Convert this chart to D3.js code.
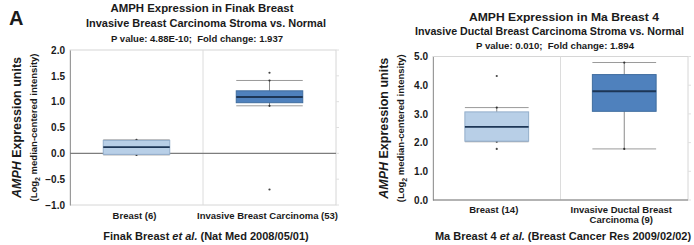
<!DOCTYPE html>
<html>
<head>
<meta charset="utf-8">
<script src="https://cdn.jsdelivr.net/npm/d3@7"></script>
<style>
  body { margin: 0; background: #fff; }
  text { font-family: "Liberation Sans", Arial, sans-serif; font-weight: bold; fill: #1a1a1a; white-space: pre; }
</style>
</head>
<body>
<div id="chart"></div>
<script>
"use strict";

// Finak Breast panel
var finakCategories = ["Breast (6)", "Invasive Breast Carcinoma (53)"];
var finakLow = [-0.03, 0.92];
var finakQ1 = [-0.02, 0.98];
var finakMedian = [0.12, 1.09];
var finakQ3 = [0.25, 1.21];
var finakHigh = [0.26, 1.41];
var finakOutliers = [[], [1.56, -0.70]];
var finakTicks = [-1.0, -0.5, 0.0, 0.5, 1.0, 1.5, 2.0];

// Ma Breast 4 panel
var maCategories = [["Breast (14)"], ["Invasive Ductal Breast", "Carcinoma (9)"]];
var maLow = [2.03, 1.78];
var maQ1 = [2.05, 3.09];
var maMedian = [2.55, 3.79];
var maQ3 = [3.07, 4.37];
var maHigh = [3.22, 4.79];
var maOutliers = [[4.32, 1.78], []];
var maTicks = [0, 1, 2, 3, 4, 5];

var boxFills = ["#b8cfe7", "#4f81bd"];
var boxStrokes = ["#93aecb", "#3f6d9f"];

var svg = d3.select("#chart").append("svg")
  .attr("width", 694).attr("height", 245);

svg.append("text").attr("x", 9).attr("y", 25)
  .style("font-size", "20px").text("A");

function drawPanel(opts) {
  var g = svg.append("g");
  var x = d3.scaleBand().domain(d3.range(opts.n)).range([opts.left, opts.right]);
  var y = d3.scaleLinear().domain(opts.yDomain).range([opts.bottom, opts.top]);
  var bw = x.bandwidth() * 0.5;

  // frame
  g.append("rect").attr("x", opts.left).attr("y", opts.top)
    .attr("width", opts.right - opts.left).attr("height", opts.bottom - opts.top)
    .attr("fill", "none").attr("stroke", "#d6d6d6");
  g.append("line").attr("x1", x(1)).attr("x2", x(1))
    .attr("y1", opts.top).attr("y2", opts.bottom).attr("stroke", "#dcdcdc");

  // y axis
  var axis = g.append("g").attr("transform", "translate(" + opts.left + ",0)")
    .call(d3.axisLeft(y).tickValues(opts.ticks).tickFormat(d3.format(".1f")).tickSize(0).tickPadding(5));
  axis.select(".domain").attr("stroke", "#9a9a9a");
  axis.selectAll("text").style("font-size", "10px").style("font-family", "Liberation Sans, Arial, sans-serif").attr("fill", "#1a1a1a");

  // right side small ticks
  g.selectAll(".rtick").data(opts.ticks).enter().append("line")
    .attr("x1", opts.right).attr("x2", opts.right + 3)
    .attr("y1", function (d) { return y(d); }).attr("y2", function (d) { return y(d); })
    .attr("stroke", "#e0e0e0");

  // zero line
  g.append("line").attr("x1", opts.left).attr("x2", opts.right)
    .attr("y1", y(0)).attr("y2", y(0)).attr("stroke", "#7d7d7d").attr("stroke-width", 1.2);

  d3.range(opts.n).forEach(function (i) {
    var cx = x(i) + x.bandwidth() / 2;
    var bg = g.append("g");
    bg.append("line").attr("x1", cx).attr("x2", cx)
      .attr("y1", y(opts.high[i])).attr("y2", y(opts.low[i]))
      .attr("stroke", "#8a8a8a");
    [opts.high[i], opts.low[i]].forEach(function (v) {
      bg.append("line").attr("x1", cx - bw / 2).attr("x2", cx + bw / 2)
        .attr("y1", y(v)).attr("y2", y(v)).attr("stroke", "#9a9a9a");
      bg.append("circle").attr("cx", cx).attr("cy", y(v)).attr("r", 1.1).attr("fill", "#333");
    });
    bg.append("rect").attr("x", cx - bw / 2).attr("y", y(opts.q3[i]))
      .attr("width", bw).attr("height", y(opts.q1[i]) - y(opts.q3[i]))
      .attr("fill", boxFills[i]).attr("stroke", boxStrokes[i]);
    bg.append("line").attr("x1", cx - bw / 2).attr("x2", cx + bw / 2)
      .attr("y1", y(opts.median[i])).attr("y2", y(opts.median[i]))
      .attr("stroke", "#1d3656").attr("stroke-width", 1.8);
    opts.outliers[i].forEach(function (v) {
      bg.append("circle").attr("cx", cx).attr("cy", y(v)).attr("r", 1.1).attr("fill", "#444");
    });
  });

  // category labels
  opts.categories.forEach(function (lines, i) {
    var cx = x(i) + x.bandwidth() / 2 + opts.catShift[i];
    [].concat(lines).forEach(function (t, k) {
      g.append("text").attr("x", cx).attr("y", opts.catY + k * 10)
        .attr("text-anchor", "middle").style("font-size", "9.5px").text(t);
    });
  });

  // titles, stretched to the widths seen in the original
  opts.titles.forEach(function (t) {
    g.append("text").attr("x", t.x).attr("y", t.y).attr("text-anchor", "middle")
      .attr("textLength", t.w).attr("lengthAdjust", "spacingAndGlyphs")
      .style("font-size", t.size + "px").text(t.text);
  });

  // source line
  var src = g.append("text").attr("x", opts.srcX).attr("y", opts.srcY)
    .attr("text-anchor", "middle").style("font-size", "11px");
  src.append("tspan").text(opts.source[0]);
  src.append("tspan").style("font-style", "italic").text(" et al.");
  src.append("tspan").text(" " + opts.source[1]);

  // y label
  var cy = (opts.top + opts.bottom) / 2;
  var l1 = g.append("text").attr("transform", "translate(" + opts.labX + "," + cy + ") rotate(-90)")
    .attr("text-anchor", "middle").style("font-size", "12.5px");
  l1.append("tspan").style("font-style", "italic").text("AMPH");
  l1.append("tspan").text(" Expression units");
  var l2 = g.append("text").attr("transform", "translate(" + (opts.labX + 16) + "," + cy + ") rotate(-90)")
    .attr("text-anchor", "middle").style("font-size", "9.5px");
  l2.append("tspan").text("(Log");
  l2.append("tspan").attr("dy", 3).style("font-size", "7px").text("2");
  l2.append("tspan").attr("dy", -3).text(" median-centered intensity)");
}

drawPanel({
  n: 2, left: 70, right: 336, top: 50, bottom: 205, yDomain: [-1, 2], ticks: finakTicks,
  low: finakLow, q1: finakQ1, median: finakMedian, q3: finakQ3, high: finakHigh, outliers: finakOutliers,
  categories: finakCategories, catY: 219, catShift: [-2, -2],
  titles: [
    { text: "AMPH Expression in Finak Breast", x: 202, y: 12, size: 11.5, w: 183 },
    { text: "Invasive Breast Carcinoma Stroma vs. Normal", x: 206, y: 26.5, size: 11.5, w: 240 },
    { text: "P value: 4.88E-10;  Fold change: 1.937", x: 197, y: 42, size: 9.7, w: 172 }
  ],
  source: ["Finak Breast", "(Nat Med 2008/05/01)"], srcX: 206, srcY: 240,
  labX: 21
});

drawPanel({
  n: 2, left: 433, right: 688, top: 56.5, bottom: 200, yDomain: [0, 5], ticks: maTicks,
  low: maLow, q1: maQ1, median: maMedian, q3: maQ3, high: maHigh, outliers: maOutliers,
  categories: maCategories, catY: 212.5, catShift: [-3, -3],
  titles: [
    { text: "AMPH Expression in Ma Breast 4", x: 564, y: 20.5, size: 11.5, w: 190 },
    { text: "Invasive Ductal Breast Carcinoma Stroma vs. Normal", x: 549.5, y: 34.5, size: 10.8, w: 269 },
    { text: "P value: 0.010;  Fold change: 1.894", x: 555, y: 48.5, size: 9.7, w: 158 }
  ],
  source: ["Ma Breast 4", "(Breast Cancer Res 2009/02/02)"], srcX: 563, srcY: 239.5,
  labX: 388
});
</script>
</body>
</html>
